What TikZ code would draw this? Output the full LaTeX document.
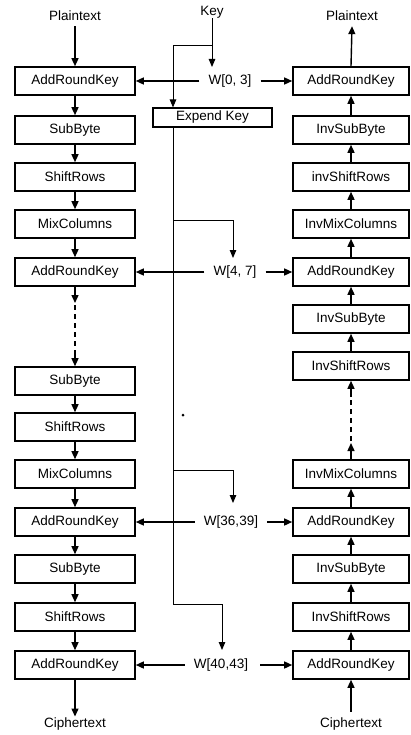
\documentclass[tikz,border=0pt]{standalone}
\usepackage{fontspec}
\setmainfont{Liberation Sans}
\usetikzlibrary{arrows.meta}
\begin{document}
\begin{tikzpicture}[x=1pt,y=-1pt,
  font=\fontsize{13.5}{15}\selectfont,
  blk/.style={draw, line width=1.6pt, minimum width=120pt, minimum height=28pt, inner sep=0pt},
  rblk/.style={blk, minimum width=116pt},
  arr/.style={line width=1.4pt, -{Triangle[length=8pt,width=7pt]}},
  karr/.style={line width=1pt, -{Triangle[length=8pt,width=6.5pt]}},
  kline/.style={line width=1pt},
  dline/.style={line width=1.4pt, dash pattern=on 5pt off 4pt},
  lbl/.style={inner sep=0pt},
]
\useasboundingbox (0,0) rectangle (410,735);

% left column (encryption)
\node[blk] (l1) at (75,81) {AddRoundKey};
\node[blk] (l2) at (75,130) {SubByte};
\node[blk] (l3) at (75,177) {ShiftRows};
\node[blk] (l4) at (75,224) {MixColumns};
\node[blk] (l5) at (75,272) {AddRoundKey};
\node[blk] (l6) at (75,381) {SubByte};
\node[blk] (l7) at (75,427) {ShiftRows};
\node[blk] (l8) at (75,474) {MixColumns};
\node[blk] (l9) at (75,522) {AddRoundKey};
\node[blk] (l10) at (75,569) {SubByte};
\node[blk] (l11) at (75,617) {ShiftRows};
\node[blk] (l12) at (75,665) {AddRoundKey};

% right column (decryption)
\node[rblk] (r1) at (351,81) {AddRoundKey};
\node[rblk] (r2) at (351,130) {InvSubByte};
\node[rblk] (r3) at (351,177) {invShiftRows};
\node[rblk] (r4) at (351,224) {InvMixColumns};
\node[rblk] (r5) at (351,272) {AddRoundKey};
\node[rblk] (r6) at (351,319) {InvSubByte};
\node[rblk] (r7) at (351,366) {InvShiftRows};
\node[rblk] (r8) at (351,474) {InvMixColumns};
\node[rblk] (r9) at (351,522) {AddRoundKey};
\node[rblk] (r10) at (351,569) {InvSubByte};
\node[rblk] (r11) at (351,617) {InvShiftRows};
\node[rblk] (r12) at (351,665) {AddRoundKey};

% labels
\node[lbl] (pl) at (75,16) {Plaintext};
\node[lbl] (pr) at (352,16) {Plaintext};
\node[lbl] (key) at (212,12) {Key};
\node[lbl] (cl) at (75,724) {Ciphertext};
\node[lbl] (cr) at (351,724) {Ciphertext};

\node[lbl] (w1) at (230,81) {W[0, 3]};
\node[lbl] (w2) at (235,272) {W[4, 7]};
\node[lbl] (w3) at (231,522) {W[36,39]};
\node[lbl] (w4) at (221,665) {W[40,43]};

\node[draw, line width=1.1pt, minimum width=119pt, minimum height=19pt, inner sep=0pt] (exp) at (212.5,117.5) {Expend Key};

% left chain
\draw[arr] ([yshift=-5pt]pl.south) -- (l1.north);
\foreach \a/\b in {l1/l2,l2/l3,l3/l4,l4/l5,l6/l7,l7/l8,l8/l9,l9/l10,l10/l11,l11/l12}
  \draw[arr] (\a.south) -- (\b.north);
\draw[arr] (l12.south) -- ([yshift=1pt]cl.north);
\coordinate (ld1) at (75,303);
\coordinate (ld2) at (75,305);
\coordinate (ld3) at (75,353);
\draw[arr] (l5.south) -- (ld1);
\draw[dline] (ld2) -- (ld3);
\draw[arr] (ld3) -- (l6.north);

% right chain
\draw[arr] (r1.north) -- ([yshift=-5pt]pr.south);
\foreach \a/\b in {r2/r1,r3/r2,r4/r3,r5/r4,r6/r5,r7/r6,r9/r8,r10/r9,r11/r10,r12/r11}
  \draw[arr] (\a.north) -- (\b.south);
\draw[arr] ([yshift=6pt]cr.north) -- (r12.south);
\coordinate (rd1) at (351,443);
\coordinate (rd2) at (351,441);
\coordinate (rd3) at (351,397);
\draw[arr] (r8.north) -- (rd1);
\draw[dline] (rd2) -- (rd3);
\draw[arr] (rd3) -- (r7.south);

% key schedule
\coordinate (kx) at (173,0);
\coordinate (kj) at (212,46);
\coordinate (w1t) at (212,67);
\draw[karr] (key.south) -- (w1t);
\draw[karr] (kj) -- (kj -| kx) -- (exp.north -| kx);
\coordinate (b2) at (173,220);
\coordinate (b3) at (173,470);
\coordinate (b4) at (173,604);
\coordinate (w2t) at (233,258);
\coordinate (w3t) at (233,503);
\coordinate (w4t) at (222,650);
\draw[kline] (exp.south -| kx) -- (b4);
\draw[karr] (b2) -- (b2 -| w2t) -- (w2t);
\draw[karr] (b3) -- (b3 -| w3t) -- (w3t);
\draw[karr] (b4) -- (b4 -| w4t) -- (w4t);

% round key distribution
\draw[arr] ([xshift=-9pt]w1.west) -- (l1.east);
\draw[arr] ([xshift=9pt]w1.east) -- (r1.west);
\draw[arr] ([xshift=-9pt]w2.west) -- (l5.east);
\draw[arr] ([xshift=9pt]w2.east) -- (r5.west);
\draw[arr] ([xshift=-9pt]w3.west) -- (l9.east);
\draw[arr] ([xshift=9pt]w3.east) -- (r9.west);
\draw[arr] ([xshift=-9pt]w4.west) -- (l12.east);
\draw[arr] ([xshift=12pt]w4.east) -- (r12.west);

% stray dot
\fill (183,415) circle (1.5pt);
\end{tikzpicture}
\end{document}
